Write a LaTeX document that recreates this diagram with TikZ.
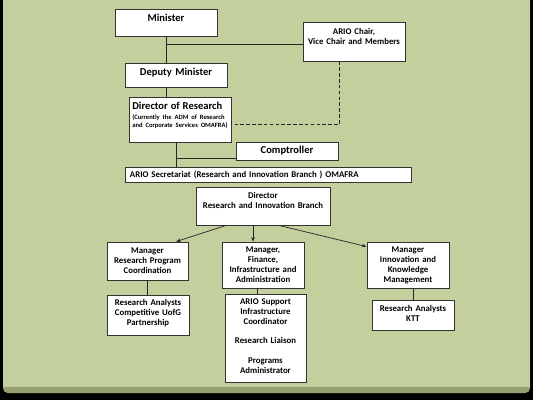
\documentclass[tikz,border=0pt]{standalone}
\usepackage{fontspec}
\setmainfont{Carlito}
\usepackage{tikz}
\usetikzlibrary{positioning,arrows.meta}
\usepackage{xcolor}
\definecolor{slidebg}{RGB}{196,207,158}
\definecolor{slideedge}{RGB}{150,160,112}
\newcommand{\fsz}[2]{\fontsize{#1}{#2}\selectfont}
\newcommand{\lift}[1]{\par\kern#1}

\begin{document}
\begin{tikzpicture}[x=0.3mm,y=-0.3mm,
  box/.style={draw=black!80,fill=white,line width=0.7pt,inner xsep=2pt,inner ysep=1pt,align=center,font=\bfseries\fsz{7.5}{8.5}},
  big/.style={font=\bfseries\fsz{9}{10.8}},
  link/.style={draw=black!85,line width=0.6pt},
  arr/.style={link,-{Stealth[length=4pt,width=3pt]}}]
\useasboundingbox (0,0) rectangle (533,400);
\fill[black] (0,0) rectangle (533,400);
\fill[slideedge,rounded corners=4pt] (3,-5) rectangle (530,393);
\fill[slidebg] (3,0) rectangle (530,387);
% top of the chain
\node[box,big,text width=29.2mm,minimum height=8.1mm] (min) at (166,22.5) {Minister\lift{7.7pt}};
\node[box,text width=29.2mm,minimum height=11.7mm] (chair) at (354,41.5) {ARIO Chair,\\Vice Chair and Members\lift{9.4pt}};
\node[box,big,text width=29.2mm,minimum height=7.2mm] (dep) at (176,75) {Deputy Minister\lift{3.4pt}};
\node[box,text width=28.6mm,inner xsep=1mm,align=left,minimum height=13.5mm] (dirres) at (180,119.5)
  {{\fsz{9}{11}Director of Research\par}\kern1.5pt{\fsz{5.6}{6.8}(Currently the ADM of Research\\and Corporate Services OMAFRA)\par}\kern7.7pt};
\node[box,big,text width=29.2mm,minimum height=5.4mm] (comp) at (287,151) {Comptroller};
\node[box,text width=82.8mm,inner xsep=1.5mm,align=left,minimum height=4.5mm] (sec) at (268,174.5) {ARIO Secretariat (Research and Innovation Branch ) OMAFRA};
% branch
\node[box,text width=38.8mm,minimum height=11.4mm] (rib) at (263,206) {Director\\Research and Innovation Branch\lift{10.2pt}};
\node[box,text width=22.9mm,minimum height=11.4mm] (rpc) at (147.5,261) {Manager\\Research Program\\Coordination};
\node[box,text width=23.2mm,minimum height=13.8mm] (fia) at (263,265) {Manager,\\Finance,\\Infrastructure and\\Administration};
\node[box,text width=23.2mm,minimum height=13.8mm] (ikm) at (408,265) {Manager\\Innovation and\\Knowledge\\Management};
\node[box,text width=23.2mm,minimum height=12mm] (racomp) at (148,315) {Research Analysts\\Competitive UofG\\Partnership\lift{3.4pt}};
\node[box,text width=22.9mm,minimum height=26.4mm] (sup) at (265.5,338) {ARIO Support\\Infrastructure\\Coordinator\\[8pt]Research Liaison\\[8pt]Programs\\Administrator\lift{3.4pt}};
\node[box,text width=23.2mm,minimum height=9mm] (rakt) at (413,315) {Research Analysts\\KTT\lift{3.4pt}};
% connectors
\coordinate (cj) at ([yshift=-0.75mm]chair.west);
\coordinate (dr) at ([xshift=-1.2mm]dirres.south);
\coordinate (cp) at ([yshift=0.6mm]comp.south west);
\coordinate (ra) at ([xshift=-3mm]rib.south);
\coordinate (fa) at ([xshift=-1.8mm]fia.south);
\draw[link] (min.south) -- (min.south |- dep.north);
\draw[link] (cj) -- (cj -| min.south);
\draw[link] (dep.south -| min.south) -- (dirres.north -| min.south);
\draw[link,densely dashed] ([xshift=-4.5mm]chair.south) |- ([yshift=-1.5mm]dirres.east);
\draw[link] (dr) -- (dr |- sec.north);
\draw[link] (cp) -- (cp -| dr);
\draw[arr] ([xshift=-11.1mm]rib.south) -- ([xshift=8.55mm]rpc.north);
\draw[arr] (ra) -- (ra |- fia.north);
\draw[arr] ([xshift=4.8mm]rib.south) -- ([yshift=-1.5mm]ikm.north west);
\draw[link] (rpc.south) -- (rpc.south |- racomp.north);
\draw[link] (fa) -- (fa |- sup.north);
\draw[link] (rakt.north |- ikm.south) -- (rakt.north);
\end{tikzpicture}
\end{document}
